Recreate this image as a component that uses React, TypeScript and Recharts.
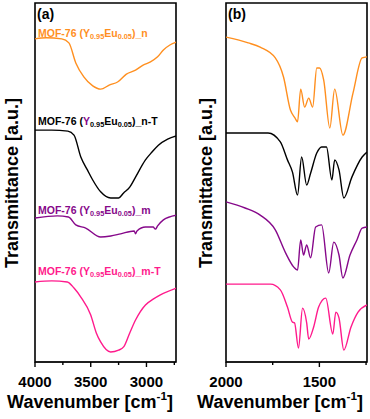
import React from "react";
import { LineChart, Line, XAxis, YAxis, ReferenceArea } from "recharts";

// [wavenumber cm-1, transmittance a.u. (stacked offset)]
const nHigh: number[][] = [
  [4000, 90.0], [3900, 90.3], [3760, 90.0], [3696, 88.9], [3634, 83.3], [3562, 79.4],
  [3482, 76.9], [3411, 76.0], [3330, 77.2], [3259, 78.0], [3180, 80.2], [3098, 81.3],
  [3030, 82.7], [2964, 83.6], [2900, 85.0], [2848, 86.9], [2790, 88.3], [2732, 89.1],
];
const nTHigh: number[][] = [
  [4000, 64.6], [3850, 64.6], [3705, 64.3], [3650, 63.2], [3589, 57.1], [3530, 53.5],
  [3482, 50.7], [3411, 47.4], [3321, 45.7], [3250, 45.7], [3205, 47.1], [3150, 48.7],
  [3098, 51.5], [3009, 56.3], [2950, 58.5], [2893, 60.4], [2810, 62.1], [2732, 63.0],
];
const mHigh: number[][] = [
  [4000, 40.1], [3800, 40.7], [3700, 40.4], [3634, 38.2], [3545, 37.3], [3411, 34.8],
  [3320, 35.1], [3232, 35.7], [3110, 36.5], [3098, 35.7], [3085, 36.5], [3009, 37.6],
  [2940, 37.6], [2920, 37.0], [2900, 37.9], [2848, 39.6], [2732, 40.9],
];
const mTHigh: number[][] = [
  [4000, 22.3], [3850, 22.6], [3710, 22.3], [3650, 20.6], [3589, 18.1], [3500, 13.1],
  [3450, 8.1], [3411, 5.6], [3321, 2.8], [3250, 3.3], [3205, 4.2], [3150, 8.1],
  [3098, 11.7], [3009, 15.9], [2940, 17.5], [2875, 18.7], [2732, 20.6],
];

const nLow: number[][] = [
  [2000, 90.5], [1881, 88.9], [1817, 87.7], [1736, 84.7], [1692, 79.4], [1655, 70.2],
  [1631, 68.0], [1617, 66.9], [1600, 76.0], [1579, 71.0], [1557, 73.5], [1536, 71.0],
  [1514, 81.9], [1499, 81.9], [1477, 78.6], [1444, 65.2], [1418, 76.0], [1374, 63.2],
  [1320, 74.9], [1271, 84.7], [1245, 85.0],
];
const nTLow: number[][] = [
  [2000, 63.8], [1775, 63.8], [1709, 61.3], [1671, 56.3], [1644, 52.9], [1617, 46.5],
  [1595, 57.1], [1568, 49.3], [1547, 52.6], [1514, 58.2], [1488, 59.9], [1462, 59.9],
  [1433, 50.7], [1418, 56.3], [1395, 53.5], [1369, 45.7], [1326, 51.5], [1271, 57.1],
  [1245, 58.5],
];
const mLow: number[][] = [
  [2000, 44.6], [1898, 42.9], [1817, 40.9], [1736, 36.8], [1681, 30.4], [1638, 26.5],
  [1617, 25.6], [1600, 34.0], [1585, 29.8], [1568, 32.6], [1547, 29.0], [1520, 37.6],
  [1488, 38.2], [1450, 24.8], [1423, 33.4], [1395, 29.8], [1374, 23.4], [1336, 29.8],
  [1299, 34.0], [1271, 37.3], [1245, 37.6],
];
const mTLow: number[][] = [
  [2000, 21.7], [1762, 21.7], [1709, 20.1], [1671, 15.3], [1644, 11.1], [1633, 10.9],
  [1612, 3.9], [1590, 15.0], [1568, 10.9], [1557, 6.4], [1531, 9.7], [1504, 15.3],
  [1466, 17.8], [1428, 7.8], [1412, 13.9], [1395, 12.3], [1369, 3.3], [1331, 9.7],
  [1293, 13.9], [1245, 15.9],
];

const ticksHigh = [4000, 3750, 3500, 3250, 3000, 2750];
const majorHigh = [4000, 3500, 3000];
const ticksLow = [2000, 1750, 1500, 1250];
const majorLow = [2000, 1500];

const ORANGE = "#ff8f1f";
const BLACK = "#000000";
const PURPLE = "#86088a";
const PINK = "#ff1a8c";
const FONT = "'Liberation Sans', Arial, sans-serif";

const toPts = (rows: number[][]) => rows.map(([wn, t]) => ({ wn, t }));

type Series = { key: string; color: string; rows: number[][] };

const highSeries: Series[] = [
  { key: "n", color: ORANGE, rows: nHigh },
  { key: "nT", color: BLACK, rows: nTHigh },
  { key: "m", color: PURPLE, rows: mHigh },
  { key: "mT", color: PINK, rows: mTHigh },
];
const lowSeries: Series[] = [
  { key: "n", color: ORANGE, rows: nLow },
  { key: "nT", color: BLACK, rows: nTLow },
  { key: "m", color: PURPLE, rows: mLow },
  { key: "mT", color: PINK, rows: mTLow },
];

// tick mark + label drawn by hand, minor ticks shorter and unlabeled
const makeTick = (major: number[]) => (props: any) => {
  const { x, y, payload } = props;
  const isMajor = major.includes(payload.value);
  return (
    <g>
      <line x1={x} x2={x} y1={y} y2={y + (isMajor ? 5 : 3)} stroke="#000" strokeWidth={1.4} />
      {isMajor && (
        <text
          x={x}
          y={y + 24.5}
          textAnchor="middle"
          fill="#000"
          fontSize={15}
          fontWeight={700}
          fontFamily={FONT}
        >
          {payload.value}
        </text>
      )}
    </g>
  );
};

interface PanelProps {
  left: number;
  margin: { top: number; right: number; bottom: number; left: number };
  domain: [number, number];
  ticks: number[];
  major: number[];
  series: Series[];
}

const Panel: React.FC<PanelProps> = ({ left, margin, domain, ticks, major, series }) => (
  <div style={{ position: "absolute", left, top: 0 }}>
    <LineChart width={185} height={419} margin={margin}>
      <XAxis
        type="number"
        dataKey="wn"
        domain={domain}
        reversed
        allowDataOverflow
        ticks={ticks}
        interval={0}
        height={30}
        tickSize={0}
        tickMargin={0}
        tickLine={false}
        stroke="#000"
        tick={makeTick(major)}
      />
      <YAxis type="number" domain={[0, 100]} width={0} tick={false} tickLine={false} stroke="#000" />
      <ReferenceArea
        x1={domain[1]}
        x2={domain[0]}
        y1={0}
        y2={100}
        fill="none"
        fillOpacity={0}
        stroke="#000"
        strokeWidth={1.6}
        ifOverflow="visible"
      />
      {series.map((s) => (
        <Line
          key={s.key}
          type="monotone"
          data={toPts(s.rows)}
          dataKey="t"
          stroke={s.color}
          strokeWidth={1.4}
          dot={false}
          isAnimationActive={false}
        />
      ))}
    </LineChart>
  </div>
);

const abs = (l: number, t: number): React.CSSProperties => ({
  position: "absolute",
  left: l,
  top: t,
  whiteSpace: "nowrap",
  pointerEvents: "none",
});

const subStyle: React.CSSProperties = { fontSize: "70%", verticalAlign: "-0.3em", lineHeight: 0 };

const SampleLabel: React.FC<{ top: number; color: string; suffix: string; yColor?: string }> = ({
  top,
  color,
  suffix,
  yColor,
}) => (
  <div style={{ ...abs(38, top), color, fontSize: 10.5, fontWeight: 700, lineHeight: "12px" }}>
    MOF-76 (<span style={{ color: yColor || color }}>Y</span>
    <span style={subStyle}>0.95</span>Eu<span style={subStyle}>0.05</span>){suffix}
  </div>
);

const YTitle: React.FC<{ x: number }> = ({ x }) => (
  <div
    style={{
      ...abs(x, 183),
      fontSize: 18,
      fontWeight: 700,
      transform: "translate(-50%, -50%) rotate(-90deg)",
    }}
  >
    Transmittance [a.u.]
  </div>
);

const XTitle: React.FC<{ x: number }> = ({ x }) => (
  <div style={{ ...abs(x, 402), fontSize: 18, fontWeight: 700, transform: "translate(-50%, -50%)" }}>
    Wavenumber [cm<sup style={{ fontSize: "65%", verticalAlign: "0.6em", lineHeight: 0 }}>-1</sup>]
  </div>
);

export default function App() {
  return (
    <div
      style={{
        position: "absolute",
        left: 0,
        top: 0,
        width: 370,
        height: 419,
        background: "#fff",
        fontFamily: FONT,
        color: "#000",
      }}
    >
      <Panel
        left={0}
        margin={{ top: 3, right: 9, bottom: 27, left: 35 }}
        domain={[2735, 4000]}
        ticks={ticksHigh}
        major={majorHigh}
        series={highSeries}
      />
      <Panel
        left={185}
        margin={{ top: 3, right: 3, bottom: 27, left: 41 }}
        domain={[1245, 2000]}
        ticks={ticksLow}
        major={majorLow}
        series={lowSeries}
      />
      <div style={{ ...abs(37, 6), fontSize: 14, fontWeight: 700 }}>(a)</div>
      <div style={{ ...abs(228, 6), fontSize: 14, fontWeight: 700 }}>(b)</div>
      <SampleLabel top={27} color={ORANGE} suffix="_n" />
      <SampleLabel top={115} color={BLACK} suffix="_n-T" yColor={PURPLE} />
      <SampleLabel top={204} color={PURPLE} suffix="_m" />
      <SampleLabel top={265} color={PINK} suffix="_m-T" />
      <YTitle x={12} />
      <YTitle x={206} />
      <XTitle x={90} />
      <XTitle x={280} />
    </div>
  );
}
